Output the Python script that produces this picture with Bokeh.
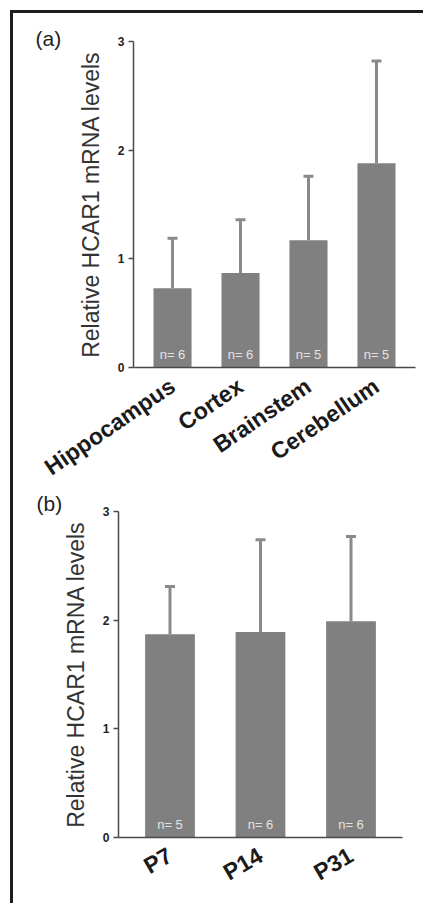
from bokeh.plotting import figure
from bokeh.models import ColumnDataSource, FactorRange, Whisker, TeeHead, Title
from bokeh.layouts import column
from bokeh.embed import file_html
from bokeh.resources import INLINE
from bokeh.core.properties import value

# ---- data ----
regions = ["Hippocampus", "Cortex", "Brainstem", "Cerebellum"]
region_mean = [0.73, 0.87, 1.17, 1.88]
region_sd = [0.46, 0.49, 0.59, 0.94]
region_n = ["n= 6", "n= 6", "n= 5", "n= 5"]

ages = ["P7", "P14", "P31"]
age_mean = [1.87, 1.89, 1.99]
age_sd = [0.44, 0.85, 0.78]
age_n = ["n= 5", "n= 6", "n= 6"]

y_ticks = [0, 1, 2, 3]
y_title = "Relative HCAR1 mRNA levels"

FONT = "Liberation Sans"
BAR = "#808080"
ERR = "#8a8a8a"
AXIS = "#4a4a4a"


def panel(cats, means, sds, ns, tag, width, height, borders, pad, bar_w,
          tag_off, orient, lab_standoff):
    left, right, top, bottom = borders
    src = ColumnDataSource(dict(
        x=cats, top=means,
        upper=[m + s for m, s in zip(means, sds)],
        n=ns, zero=[0] * len(cats)))
    p = figure(x_range=FactorRange(factors=cats, range_padding=pad),
               y_range=(0, 3), width=width, height=height,
               output_backend="svg", toolbar_location=None,
               min_border_left=left, min_border_right=right,
               min_border_top=top, min_border_bottom=bottom)
    try:
        p.frame_align = False
    except Exception:
        pass
    p.outline_line_color = None
    p.xgrid.grid_line_color = None
    p.ygrid.grid_line_color = None
    p.background_fill_color = "white"
    p.border_fill_color = "white"

    p.vbar(x="x", top="top", width=bar_w, source=src,
           fill_color=BAR, line_color=None)
    w = Whisker(source=src, base="x", lower="top", upper="upper",
                line_color=ERR, line_width=3, lower_head=None,
                upper_head=TeeHead(size=10, line_color=ERR, line_width=3))
    p.add_layout(w)
    p.text(x="x", y="zero", text="n", source=src,
           text_font=value(FONT), text_font_size="13px",
           text_color="#e4e4e4", text_align="center",
           text_baseline="bottom", y_offset=-6)

    ya = p.yaxis[0]
    ya.ticker = y_ticks
    ya.axis_label = y_title
    ya.axis_label_text_font = FONT
    ya.axis_label_text_font_style = "normal"
    ya.axis_label_text_font_size = "23px"
    ya.axis_label_text_color = "#333333"
    ya.axis_label_standoff = 11
    ya.major_label_text_font = FONT
    ya.major_label_text_font_style = "bold"
    ya.major_label_text_font_size = "12px"
    ya.major_label_text_color = "#222222"
    ya.major_label_standoff = 4
    ya.major_tick_out = 5
    ya.major_tick_in = 0
    ya.minor_tick_line_color = None
    ya.axis_line_color = AXIS
    ya.axis_line_width = 1.5
    ya.major_tick_line_color = AXIS
    ya.major_tick_line_width = 1.5

    xa = p.xaxis[0]
    xa.major_label_orientation = orient
    xa.major_label_text_font = FONT
    xa.major_label_text_font_style = "bold"
    xa.major_label_text_font_size = "23px"
    xa.major_label_text_color = "#1a1a1a"
    xa.major_label_standoff = lab_standoff
    xa.major_tick_line_color = None
    xa.minor_tick_line_color = None
    xa.axis_line_color = AXIS
    xa.axis_line_width = 1.5

    p.add_layout(Title(text=tag, align="left", offset=tag_off[0],
                       standoff=tag_off[1], text_font=FONT,
                       text_font_size="21px", text_font_style="normal",
                       text_color="#222222"), "above")
    return p


pa = panel(regions, region_mean, region_sd, region_n, "(a)",
           410, 480, (120, 8, 28, 125), 0.037, 0.56, (-98, -16), 0.60, 10)
pb = panel(ages, age_mean, age_sd, age_n, "(b)",
           410, 410, (105, 21, 17, 66), 0.046, 0.55, (-82, -7), 0.53, 10)

layout = column(pa, pb, spacing=0,
                styles={"border-top": "3px solid #1e1e1e",
                        "border-left": "3px solid #1e1e1e",
                        "margin": "10px 0px 0px 10px"})

open("out.html", "w").write(file_html(layout, INLINE))
